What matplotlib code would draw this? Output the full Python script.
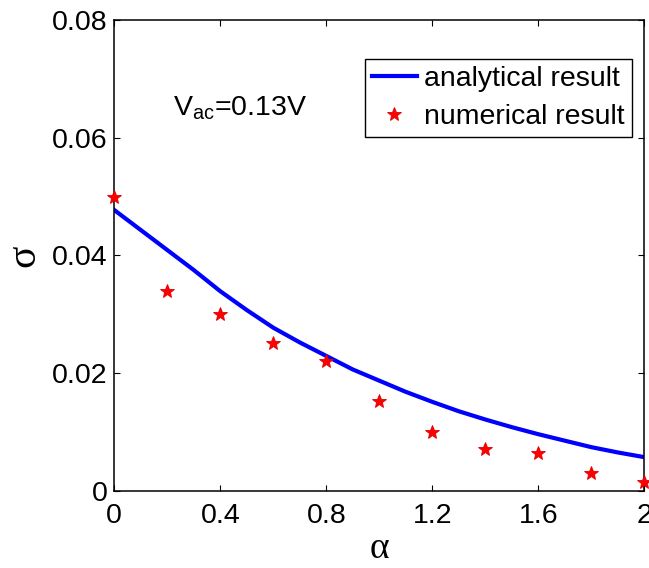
import matplotlib
matplotlib.use("Agg")
import matplotlib.pyplot as plt

plt.rcParams['font.family'] = ['Liberation Sans', 'DejaVu Sans']
plt.rcParams['mathtext.fontset'] = 'custom'
plt.rcParams['mathtext.rm'] = 'Liberation Sans'
plt.rcParams['mathtext.it'] = 'Liberation Sans'

# Analytical result
alpha_line = [0.0, 0.1, 0.2, 0.3, 0.4, 0.5, 0.6, 0.7, 0.8, 0.9, 1.0,
              1.1, 1.2, 1.3, 1.4, 1.5, 1.6, 1.7, 1.8, 1.9, 2.0]
sigma_line = [0.0477, 0.0443, 0.0409, 0.0375, 0.0339, 0.0307, 0.0277, 0.0252, 0.0229, 0.0206, 0.0187,
              0.0168, 0.0151, 0.0135, 0.0121, 0.0108, 0.0096, 0.0085, 0.0074, 0.0065, 0.0057]

# Numerical result (stars)
alpha_num = [0.0, 0.2, 0.4, 0.6, 0.8, 1.0, 1.2, 1.4, 1.6, 1.8, 2.0]
sigma_num = [0.0500, 0.0340, 0.0300, 0.0251, 0.0221, 0.0152, 0.0100, 0.0071, 0.0064, 0.0030, 0.0014]

xticks = [0, 0.4, 0.8, 1.2, 1.6, 2.0]
xticklabels = ['0', '0.4', '0.8', '1.2', '1.6', '2']
yticks = [0, 0.02, 0.04, 0.06, 0.08]
yticklabels = ['0', '0.02', '0.04', '0.06', '0.08']

fig = plt.figure(figsize=(6.49, 5.68), dpi=100)
ax = fig.add_axes([0.1761, 0.1361, 0.8167, 0.8287])

ax.plot(alpha_line, sigma_line, color='#0000ff', lw=3.0, label='analytical result',
        solid_joinstyle='round')
ax.plot(alpha_num, sigma_num, linestyle='none', marker='*', markersize=10,
        color='#ff0000', markeredgecolor='#e00000', markeredgewidth=0.6,
        label='numerical result', clip_on=False, zorder=5)

ax.set_xlim(0, 2)
ax.set_ylim(0, 0.08)
ax.set_xticks(xticks)
ax.set_xticklabels(xticklabels)
ax.set_yticks(yticks)
ax.set_yticklabels(yticklabels)

ax.tick_params(direction='in', length=4, width=0.8, top=True, right=True,
               labelsize=20.5, colors='black')
ax.tick_params(axis='x', pad=9)
ax.tick_params(axis='y', pad=5)
for s in ax.spines.values():
    s.set_linewidth(1.1)

ax.set_xlabel('α', fontsize=27, family=['Liberation Serif', 'DejaVu Serif'], va='bottom')
ax.xaxis.set_label_coords(0.5, -0.160)
ax.set_ylabel('σ', fontsize=30, family=['Liberation Serif', 'DejaVu Serif'], labelpad=6)

ax.text(0.22, 0.0638, r'V$_{\mathrm{ac}}$=0.13V', fontsize=20.5, ha='left', va='baseline')

leg = ax.legend(loc='upper right', bbox_to_anchor=(0.977, 0.917), fontsize=20.5,
                frameon=True, fancybox=False, edgecolor='black', framealpha=1,
                handlelength=1.6, handletextpad=0.25, labelspacing=0.4,
                borderpad=0.25, borderaxespad=0.0)
leg.get_frame().set_linewidth(1.0)

fig.savefig('out.png', dpi=100)
